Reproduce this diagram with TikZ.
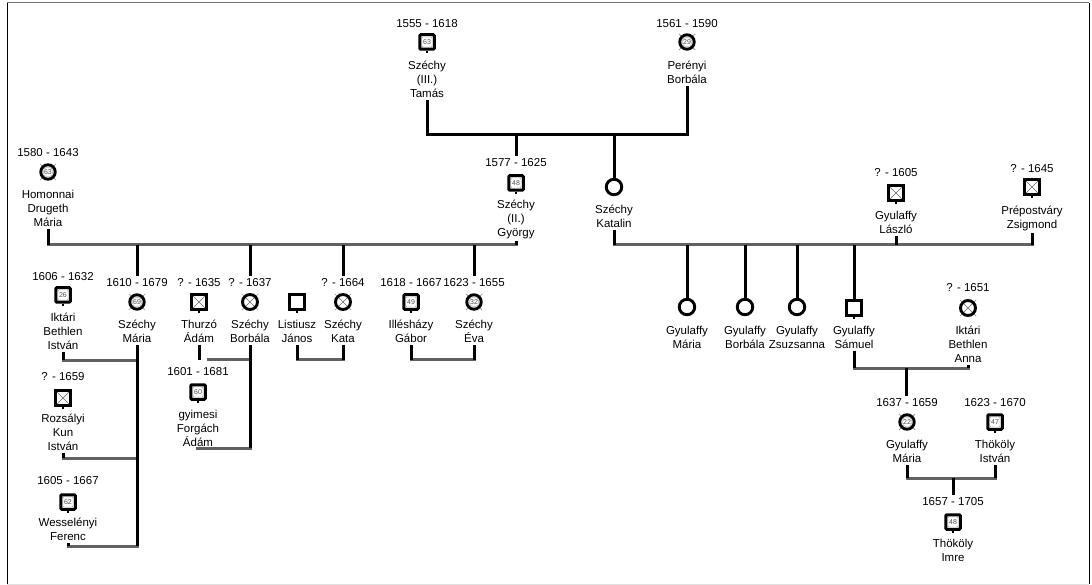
\documentclass[tikz,border=0pt]{standalone}
\usepackage{fontspec}
\setmainfont{Liberation Sans}
\newcommand\fnt{\fontsize{11.5}{14}\selectfont}
\newcommand\fsm{\fontsize{7}{8}\selectfont}
\newcommand\ticks[1]{\foreach \a in {45,135,225,315}{\draw[black!45,line width=0.7pt] (#1.center) ++(\a:8.6pt) -- ++(\a:2.8pt);}}
\newcommand\stubs[1]{\draw[line width=1.8pt] (#1.south) -- ++(0,2.2);}
\tikzset{
 x=1pt, y=-1pt,
 dt/.style={inner sep=0pt, outer sep=2.5pt, font=\fnt},
 nm/.style={inner sep=0pt, outer sep=2.5pt, font=\fnt, align=center, anchor=north},
 vl/.style={line width=3pt, draw=black},
 hl/.style={line width=3pt, draw=black!62, line cap=rect},
 msq/.style={draw=black, line width=3pt, rounded corners=1pt, minimum size=14.5pt, inner sep=0pt, font=\fsm, text=black!70,
   path picture={\draw[black!35,line width=0.4pt] ([shift={(-5pt,-5pt)}]path picture bounding box.center) rectangle ++(10pt,10pt);}},
 msqx/.style={draw=black, line width=2.9pt, minimum size=15pt, inner sep=0pt,
   path picture={\draw[black!60,line width=0.6pt] (path picture bounding box.south west) -- (path picture bounding box.north east) (path picture bounding box.north west) -- (path picture bounding box.south east);}},
 mp/.style={draw=black, line width=2.9pt, minimum size=15pt, inner sep=0pt},
 fc/.style={circle, draw=black, line width=2.9pt, minimum size=14.5pt, inner sep=0pt, font=\fsm, text=black!70,
   path picture={\draw[black!35,line width=0.4pt] (path picture bounding box.center) circle (5pt);}},
 fcx/.style={circle, draw=black, line width=2.9pt, minimum size=15pt, inner sep=0pt,
   path picture={\draw[black!60,line width=0.6pt] (path picture bounding box.south west) -- (path picture bounding box.north east) (path picture bounding box.north west) -- (path picture bounding box.south east);}},
 fp/.style={circle, draw=black, line width=2.9pt, minimum size=15.5pt, inner sep=0pt},
}
\begin{document}
\begin{tikzpicture}
\useasboundingbox (0,0) rectangle (1092,585);
% frame
\draw[black!55, line width=1pt] (7,3) -- (1089,3);
\draw[black!12, line width=1pt] (7,584) -- (1089,584);
\draw[black, line width=1pt] (7,3) -- (7,584);
\draw[black, line width=1pt] (1089,3) -- (1089,584);

% ---- generation 1
\node[dt] (tamasD) at (427,24) {1555 - 1618};
\node[msq] (tamas) at (427,42) {63}; \stubs{tamas}
\node[nm] (tamasN) at (427,58.5) {Széchy\\(III.)\\Tamás};
\node[dt] (perD) at (687,24) {1561 - 1590};
\node[fc] (per) at (687,42) {29}; \ticks{per}
\node[nm] (perN) at (687,58.5) {Perényi\\Borbála};
\coordinate (m1) at (557,135);
\draw[vl, line join=miter] (tamasN.south) |- (m1) -| (perN.south);

% ---- generation 2
\node[dt] (gyD) at (516,163) {1577 - 1625};
\node[msq] (gy) at (516,183) {48}; \stubs{gy}
\node[nm] (gyN) at (516,197.5) {Széchy\\(II.)\\György};
\node[fp] (kat) at (614,187) {};
\node[nm] (katN) at (614,202.5) {Széchy\\Katalin};
\draw[vl] (m1 -| gyD) -- (gyD.north);
\draw[vl] (m1 -| kat) -- (kat.north);

\node[dt] (homD) at (48,153) {1580 - 1643};
\node[fc] (hom) at (48,172) {63}; \ticks{hom}
\node[nm] (homN) at (48,187.5) {Homonnai\\Drugeth\\Mária};
\node[dt] (lasD) at (896,173) {? - 1605};
\node[msqx] (las) at (896,193) {}; \stubs{las}
\node[nm] (lasN) at (896,208.5) {Gyulaffy\\László};
\node[dt] (preD) at (1032,169) {? - 1645};
\node[msqx] (pre) at (1032,187) {}; \stubs{pre}
\node[nm] (preN) at (1032,203.5) {Prépostváry\\Zsigmond};

\coordinate (m2) at (300,245);
\draw[hl] (homN.south |- m2) -- (gyN.south |- m2);
\draw[vl] (homN.south) -- (homN.south |- m2);
\draw[vl] (gyN.south) -- (gyN.south |- m2);
\coordinate (m3) at (800,245);
\draw[hl] (katN.south |- m3) -- (preN.south |- m3);
\draw[vl] (katN.south) -- (katN.south |- m3);
\draw[vl] (lasN.south) -- (lasN.south |- m3);
\draw[vl] (preN.south) -- (preN.south |- m3);

% ---- generation 3 left
\node[dt] (mariaD) at (137,283) {1610 - 1679};
\node[fc] (maria) at (137,302) {69}; \ticks{maria}
\node[nm] (mariaN) at (137,317.5) {Széchy\\Mária};
\node[dt] (thuD) at (199,283) {? - 1635};
\node[msqx] (thu) at (199,302) {}; \stubs{thu}
\node[nm] (thuN) at (199,317.5) {Thurzó\\Ádám};
\node[dt] (borD) at (250,283) {? - 1637};
\node[fcx] (bor) at (250,302) {}; \ticks{bor}
\node[nm] (borN) at (250,317.5) {Széchy\\Borbála};
\node[mp] (lis) at (297,302) {}; \stubs{lis}
\node[nm] (lisN) at (297,317.5) {Listiusz\\János};
\node[dt] (kataD) at (343,283) {? - 1664};
\node[fcx] (kata) at (343,302) {}; \ticks{kata}
\node[nm] (kataN) at (343,317.5) {Széchy\\Kata};
\node[dt] (illD) at (411,283) {1618 - 1667};
\node[msq] (ill) at (411,302) {49}; \stubs{ill}
\node[nm] (illN) at (411,317.5) {Illésházy\\Gábor};
\node[dt] (evaD) at (474,283) {1623 - 1655};
\node[fc] (eva) at (474,302) {32}; \ticks{eva}
\node[nm] (evaN) at (474,317.5) {Széchy\\Éva};

\draw[vl] (m2 -| mariaD) -- (mariaD.north);
\draw[vl] (m2 -| borD) -- (borD.north);
\draw[vl] (m2 -| kataD) -- (kataD.north);
\draw[vl] (m2 -| evaD) -- (evaD.north);

\node[dt] (istD) at (63,277) {1606 - 1632};
\node[msq] (ist) at (63,295) {26}; \stubs{ist}
\node[nm] (istN) at (63,310.5) {Iktári\\Bethlen\\István};
\node[dt] (rozD) at (63,377) {? - 1659};
\node[msqx] (roz) at (63,398) {}; \stubs{roz}
\node[nm] (rozN) at (63,411.5) {Rozsályi\\Kun\\István};
\node[dt] (wesD) at (68,481) {1605 - 1667};
\node[msq] (wes) at (68,502) {62}; \stubs{wes}
\node[nm] (wesN) at (68,515.5) {Wesselényi\\Ferenc};
\node[dt] (forD) at (198,372) {1601 - 1681};
\node[msq] (for) at (198,392) {60}; \stubs{for}
\node[nm] (forN) at (198,407.5) {gyimesi\\Forgách\\Ádám};

% Széchy Mária's marriages
\coordinate (mi) at (100,360);
\coordinate (mr) at (100,458);
\coordinate (mw) at (100,546);
\draw[hl] (istN.south |- mi) -- (mariaN.south |- mi);
\draw[hl] (rozN.south |- mr) -- (mariaN.south |- mr);
\draw[hl] (wesN.south |- mw) -- (mariaN.south |- mw);
\draw[vl] (mariaN.south) -- (mariaN.south |- mw);
\draw[vl] (istN.south) -- (istN.south |- mi);
\draw[vl] (rozN.south) -- (rozN.south |- mr);
\draw[vl] (wesN.south) -- (wesN.south |- mw);

% Széchy Borbála's marriages
\coordinate (thE) at (208,359.5);
\coordinate (fgE) at (197,448);
\draw[hl] (thE) -- (thE -| borN.south);
\draw[hl] (fgE) -- (fgE -| borN.south);
\draw[vl] (thuN.south) -- (thuN.south |- thE);
\draw[vl] (borN.south) -- (borN.south |- fgE);

% other marriages
\coordinate (mlk) at (320,359.5);
\draw[hl] (lisN.south |- mlk) -- (kataN.south |- mlk);
\draw[vl] (lisN.south) -- (lisN.south |- mlk);
\draw[vl] (kataN.south) -- (kataN.south |- mlk);
\coordinate (mie) at (440,359.5);
\draw[hl] (illN.south |- mie) -- (evaN.south |- mie);
\draw[vl] (illN.south) -- (illN.south |- mie);
\draw[vl] (evaN.south) -- (evaN.south |- mie);

% ---- generation 3 right
\node[fp] (gm) at (687,307) {};
\node[nm] (gmN) at (687,323.5) {Gyulaffy\\Mária};
\node[fp] (gb) at (745,307) {};
\node[nm] (gbN) at (745,323.5) {Gyulaffy\\Borbála};
\node[fp] (gz) at (797,307) {};
\node[nm] (gzN) at (797,323.5) {Gyulaffy\\Zsuzsanna};
\node[mp] (gs) at (854,308) {}; \stubs{gs}
\node[nm] (gsN) at (854,323.5) {Gyulaffy\\Sámuel};
\draw[vl] (m3 -| gm) -- (gm.north);
\draw[vl] (m3 -| gb) -- (gb.north);
\draw[vl] (m3 -| gz) -- (gz.north);
\draw[vl] (m3 -| gs) -- (gs.north);

\node[dt] (annaD) at (968,288) {? - 1651};
\node[fcx] (anna) at (968,308) {}; \ticks{anna}
\node[nm] (annaN) at (968,323.5) {Iktári\\Bethlen\\Anna};
\coordinate (m4) at (906,368);
\draw[hl] (gsN.south |- m4) -- (annaN.south |- m4);
\draw[vl] (gsN.south) -- (gsN.south |- m4);
\draw[vl] (annaN.south) -- (annaN.south |- m4);

\node[dt] (gm2D) at (907,403) {1637 - 1659};
\node[fc] (gm2) at (907,422) {22}; \ticks{gm2}
\node[nm] (gm2N) at (907,437.5) {Gyulaffy\\Mária};
\draw[vl] (m4) -- (m4 |- gm2D.north);
\node[dt] (tiD) at (995,403) {1623 - 1670};
\node[msq] (ti) at (995,422) {47}; \stubs{ti}
\node[nm] (tiN) at (995,437.5) {Thököly\\István};
\coordinate (m5) at (953,478);
\draw[hl] (gm2N.south |- m5) -- (tiN.south |- m5);
\draw[vl] (gm2N.south) -- (gm2N.south |- m5);
\draw[vl] (tiN.south) -- (tiN.south |- m5);

\node[dt] (imD) at (953,502) {1657 - 1705};
\node[msq] (im) at (953,522) {48}; \stubs{im}
\node[nm] (imN) at (953,536.5) {Thököly\\Imre};
\draw[vl] (m5) -- (m5 |- imD.north);
\end{tikzpicture}
\end{document}
